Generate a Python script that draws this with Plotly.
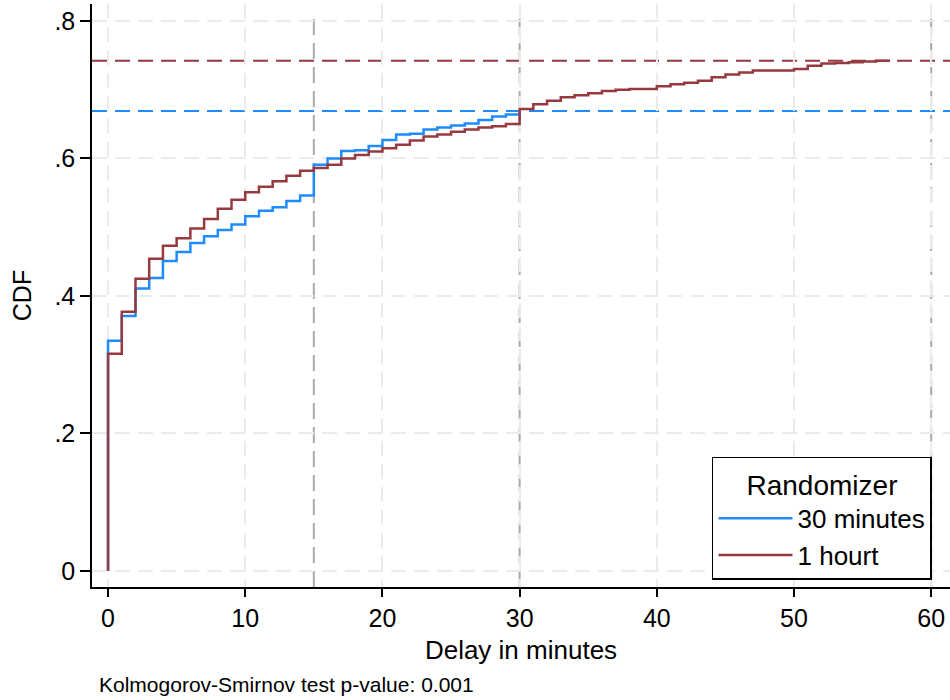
import plotly.graph_objects as go

# ---- data ----
minutes_30 = [0, 0, 1, 2, 3, 4, 5, 6, 7, 8, 9, 10, 11, 12, 13, 14, 15, 16, 17, 18, 19,
              20, 21, 22, 23, 24, 25, 26, 27, 28, 29, 30]
cdf_30 = [0.0, 0.335, 0.371, 0.411, 0.426, 0.451, 0.464, 0.477, 0.487, 0.496, 0.504,
          0.516, 0.524, 0.529, 0.538, 0.546, 0.591, 0.600, 0.611, 0.612, 0.618,
          0.627, 0.635, 0.636, 0.642, 0.645, 0.648, 0.651, 0.656, 0.661, 0.664, 0.669]

minutes_60 = [0, 0, 1, 2, 3, 4, 5, 6, 7, 8, 9, 10, 11, 12, 13, 14, 15, 16, 17, 18, 19,
              20, 21, 22, 23, 24, 25, 26, 27, 28, 29, 30, 31, 32, 33, 34, 35, 36, 37,
              38, 39, 40, 41, 42, 43, 44, 45, 46, 47, 48, 49, 50, 51, 52, 53, 54, 55,
              56, 57]
cdf_60 = [0.0, 0.316, 0.377, 0.425, 0.454, 0.473, 0.484, 0.498, 0.512, 0.527, 0.540,
          0.551, 0.559, 0.567, 0.575, 0.582, 0.586, 0.591, 0.600, 0.605, 0.610,
          0.615, 0.620, 0.626, 0.632, 0.635, 0.639, 0.642, 0.645, 0.647, 0.650,
          0.672, 0.679, 0.684, 0.689, 0.692, 0.695, 0.698, 0.700, 0.701, 0.701,
          0.705, 0.708, 0.710, 0.713, 0.718, 0.722, 0.725, 0.728, 0.728, 0.728,
          0.730, 0.735, 0.738, 0.739, 0.740, 0.741, 0.742, 0.742]

max_30 = 0.669
max_60 = 0.742
ref_minutes = [15, 30, 60]

x_ticks = [0, 10, 20, 30, 40, 50, 60]
y_ticks = [0, 0.2, 0.4, 0.6, 0.8]
y_ticklabels = ["0", ".2", ".4", ".6", ".8"]

series_names = ["30 minutes", "1 hourt"]
BLUE = "#1E8CFF"
RED = "#963A40"
FONT = "Liberation Sans, Arial, sans-serif"

fig = go.Figure()
fig.add_trace(go.Scatter(x=minutes_30, y=cdf_30, mode="lines", name=series_names[0],
                         line=dict(color=BLUE, width=2.5, shape="hv")))
fig.add_trace(go.Scatter(x=minutes_60, y=cdf_60, mode="lines", name=series_names[1],
                         line=dict(color=RED, width=2.5, shape="hv")))

# vertical reference lines
for m in ref_minutes:
    fig.add_shape(type="line", xref="x", yref="paper", x0=m, x1=m, y0=0, y1=0.985,
                  line=dict(color="#AAAAAA", width=2, dash="16px,8px"), layer="below")
# horizontal max lines
fig.add_shape(type="line", xref="paper", yref="y", x0=0, x1=1, y0=max_30, y1=max_30,
              line=dict(color=BLUE, width=2, dash="15px,8px"), layer="below")
fig.add_shape(type="line", xref="paper", yref="y", x0=0, x1=1, y0=max_60, y1=max_60,
              line=dict(color=RED, width=2, dash="15px,8px"), layer="below")

fig.add_annotation(text="Kolmogorov-Smirnov test p-value: 0.001", xref="paper", yref="paper",
                   x=0.0058, y=-0.167, xanchor="left", yanchor="middle", showarrow=False,
                   font=dict(family=FONT, size=21, color="black"))

fig.update_layout(
    width=950, height=700,
    margin=dict(l=92, r=0, t=4, b=113),
    paper_bgcolor="white", plot_bgcolor="white",
    font=dict(family=FONT, color="black"),
    showlegend=True,
    legend=dict(x=0.7226, y=0.223, xanchor="left", yanchor="top",
                bgcolor="white", bordercolor="black", borderwidth=1.5,
                font=dict(family=FONT, size=26, color="black"),
                title=dict(text="Randomizer", side="top center",
                           font=dict(family=FONT, size=28, color="black")),
                itemwidth=74),
    xaxis=dict(range=[-1.17, 61.37], tickvals=x_ticks, ticks="outside", ticklen=8,
               tickwidth=1.5, tickcolor="black", showline=True, linecolor="black",
               linewidth=1.5, showgrid=True, gridcolor="#EBEBEB", gridwidth=2,
               griddash="15px,8px", zeroline=False,
               tickfont=dict(family=FONT, size=25, color="black"),
               title=dict(text="Delay in minutes", font=dict(family=FONT, size=26, color="black"),
                          standoff=10)),
    yaxis=dict(range=[-0.0233, 0.8247], tickvals=y_ticks, ticktext=y_ticklabels,
               ticks="outside", ticklen=10, tickwidth=1.5, tickcolor="black",
               showline=True, linecolor="black", linewidth=1.5, showgrid=True,
               gridcolor="#EBEBEB", gridwidth=2, griddash="15px,8px", zeroline=False,
               tickfont=dict(family=FONT, size=25, color="black"),
               title=dict(text="CDF", font=dict(family=FONT, size=25, color="black"),
                          standoff=16)),
)

fig.write_html("out.html", config={"displayModeBar": False},
               post_script="document.body.style.margin='0';document.body.style.overflow='hidden';")
